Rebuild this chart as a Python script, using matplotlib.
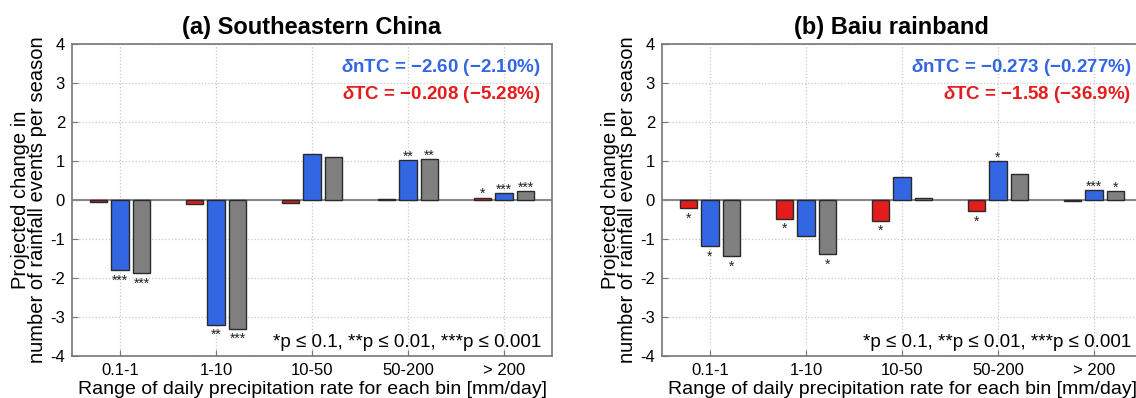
import matplotlib
matplotlib.use("Agg")
import matplotlib.pyplot as plt
import numpy as np

plt.rcParams['font.family'] = ['Liberation Sans', 'DejaVu Sans']
plt.rcParams['mathtext.fontset'] = 'custom'
plt.rcParams['mathtext.it'] = 'Liberation Sans:italic:bold'
plt.rcParams['mathtext.rm'] = 'Liberation Sans:bold'
plt.rcParams['mathtext.bf'] = 'Liberation Sans:bold'

categories = ['0.1-1', '1-10', '10-50', '50-200', '> 200']

# (a) Southeastern China
a_tc = [-0.04, -0.10, -0.07, 0.02, 0.06]
a_ntc = [-1.80, -3.20, 1.19, 1.02, 0.17]
a_total = [-1.88, -3.30, 1.10, 1.05, 0.22]
a_tc_sig = ['', '', '', '', '*']
a_ntc_sig = ['***', '**', '', '**', '***']
a_total_sig = ['***', '***', '', '**', '***']

# (b) Baiu rainband
b_tc = [-0.21, -0.48, -0.53, -0.29, -0.02]
b_ntc = [-1.19, -0.92, 0.58, 0.99, 0.25]
b_total = [-1.44, -1.38, 0.04, 0.66, 0.22]
b_tc_sig = ['*', '*', '*', '*', '']
b_ntc_sig = ['*', '', '', '*', '***']
b_total_sig = ['*', '*', '', '', '*']

titles = ['(a) Southeastern China', '(b) Baiu rainband']
title_x = [0.5, 0.477]
ntc_texts = ['$\\delta$nTC = \u22122.60 (\u22122.10%)', '$\\delta$nTC = \u22120.273 (\u22120.277%)']
tc_texts = ['$\\delta$TC = \u22120.208 (\u22125.28%)', '$\\delta$TC = \u22121.58 (\u221236.9%)']
ptext = '*p \u2264 0.1, **p \u2264 0.01, ***p \u2264 0.001'
yticks = [-4, -3, -2, -1, 0, 1, 2, 3, 4]

RED = '#E41C1C'
BLUE = '#3366E3'
GRAY = '#808080'
EDGE = '#2a2a2a'
SPINE = '#777777'

W, H = 1136, 398
fig = plt.figure(figsize=(W / 100, H / 100), dpi=100)

panels = [
    (a_tc, a_ntc, a_total, a_tc_sig, a_ntc_sig, a_total_sig),
    (b_tc, b_ntc, b_total, b_tc_sig, b_ntc_sig, b_total_sig),
]
lefts = [72, 662]
ax_w = 480
ax_bottom = 356
ax_top = 44

x = np.arange(1, len(categories) + 1)
off = 0.225
bw = 0.18

for i, (tc, ntc, tot, tcs, ntcs, tots) in enumerate(panels):
    ax = fig.add_axes([lefts[i] / W, (H - ax_bottom) / H, ax_w / W, (ax_bottom - ax_top) / H])
    ax.set_xlim(0.5, 5.5)
    ax.set_ylim(-4, 4)
    ax.set_axisbelow(True)
    ax.grid(True, linestyle=':', color='#c8c8c8', linewidth=0.9)
    ax.axhline(0, color='#8a8a8a', linewidth=1.5, zorder=1)
    for vals, sigs, dx, col in [(tc, tcs, -off, RED), (ntc, ntcs, 0, BLUE), (tot, tots, off, GRAY)]:
        ax.bar(x + dx, vals, width=bw, color=col, edgecolor=EDGE, linewidth=1.0, zorder=2)
        for xx, v, s in zip(x + dx, vals, sigs):
            if s:
                if v >= 0:
                    ax.annotate(s, (xx, v), xytext=(0, -2.5), textcoords='offset points',
                                ha='center', va='bottom', fontsize=10, color='#222222')
                else:
                    ax.annotate(s, (xx, v), xytext=(0, -2.5), textcoords='offset points',
                                ha='center', va='top', fontsize=10, color='#222222')
    ax.set_xticks(x)
    ax.set_xticklabels(categories, fontsize=12)
    ax.set_yticks(yticks)
    ax.set_yticklabels([str(t) for t in yticks], fontsize=12)
    ax.tick_params(direction='in', length=4, color=SPINE, pad=5)
    for sp in ax.spines.values():
        sp.set_color(SPINE)
        sp.set_linewidth(1.2)
    ax.set_title(titles[i], fontsize=17, fontweight='bold', pad=7, x=title_x[i])
    ax.set_xlabel('Range of daily precipitation rate for each bin [mm/day]', fontsize=14, labelpad=2)
    ax.set_ylabel('Projected change in\nnumber of rainfall events per season', fontsize=14.5,
                  labelpad=2, linespacing=0.92)
    ax.text(0.977, 0.925, ntc_texts[i], transform=ax.transAxes, ha='right', va='center',
            color=BLUE, fontsize=13.5, fontweight='bold')
    ax.text(0.977, 0.838, tc_texts[i], transform=ax.transAxes, ha='right', va='center',
            color=RED, fontsize=13.5, fontweight='bold')
    ax.text(0.977, 0.015, ptext, transform=ax.transAxes, ha='right', va='bottom',
            color='black', fontsize=13.5)

fig.savefig('out.png', dpi=100)
